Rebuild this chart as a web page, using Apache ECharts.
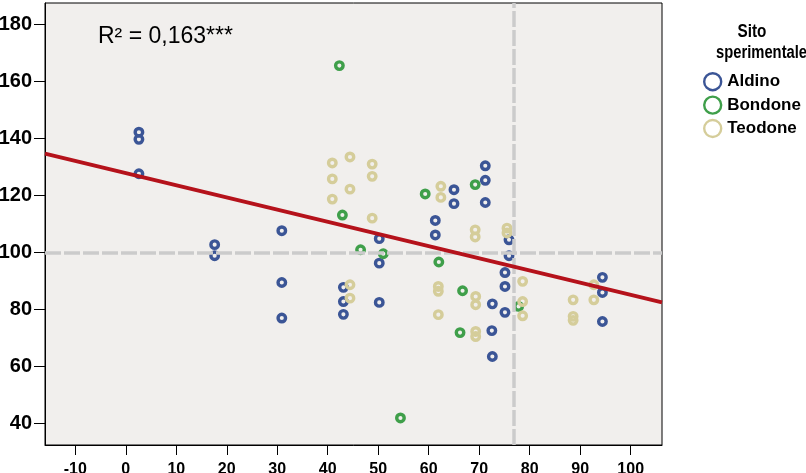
<!DOCTYPE html>
<html>
<head>
<meta charset="utf-8">
<script src="https://cdn.jsdelivr.net/npm/echarts@6.0.0/dist/echarts.min.js"></script>
<style>
html,body{margin:0;padding:0;background:#fff;}
#chart{width:806px;height:473px;}
</style>
</head>
<body>
<div id="chart"></div>
<script>
// ---- data ----
const seriesNames = ['Aldino', 'Bondone', 'Teodone'];
const aldino = [[2.6,142.2],[2.6,139.7],[2.6,127.6],[17.6,102.7],[17.6,98.8],[30.9,107.6],[30.9,89.4],[30.9,76.9],
  [43.1,87.7],[43.1,82.7],[43.1,78.2],[50.2,104.8],[50.2,96.2],[50.2,82.4],[61.3,111.2],[61.3,106.1],[65.0,122.0],
  [65.0,117.1],[71.2,130.4],[71.2,125.3],[71.2,117.5],[72.6,81.9],[72.5,72.5],[72.6,63.4],[75.1,92.9],[75.1,88.0],
  [75.1,78.9],[75.9,104.4],[75.9,98.8],[94.4,91.2],[94.4,85.9],[94.4,75.7]];
const bondone = [[42.3,165.6],[42.9,113.1],[46.5,100.9],[51.0,99.5],[54.4,41.8],[59.3,120.5],[62.0,96.6],
  [66.2,71.8],[66.7,86.5],[69.2,123.8],[77.8,81.0]];
const teodone = [[40.9,131.4],[40.9,125.8],[40.9,118.7],[44.4,133.5],[44.4,122.2],[44.4,88.6],[44.4,83.9],
  [48.8,131.0],[48.8,126.7],[48.8,112.0],[61.9,88.0],[61.9,86.3],[61.9,78.1],[62.4,123.2],[62.4,119.3],
  [69.2,107.9],[69.2,105.4],[69.3,84.5],[69.3,81.6],[69.3,72.2],[69.3,70.4],[75.5,108.5],[75.5,106.8],
  [78.6,89.8],[78.6,82.7],[78.6,77.7],[88.6,83.3],[88.6,77.5],[88.6,76.1],[92.7,88.6],[92.7,83.3]];
const regLine = [[-16, 134.7], [106.2, 82.4]];
const refX = 76.8;
const refY = 100;
const xTicks = [-10, 0, 10, 20, 30, 40, 50, 60, 70, 80, 90, 100];
const yTicks = [40, 60, 80, 100, 120, 140, 160, 180];
const r2Text = 'R\u00B2 = 0,163***';
const legendTitle1 = 'Sito';
const legendTitle2 = 'sperimentale';

// ---- styling ----
const colors = ['#3b5596', '#3f9f4a', '#d5cd9a'];
const fontFam = "'Liberation Sans', Arial, sans-serif";

function scatter(name, data, color) {
  return {
    name: name,
    type: 'scatter',
    data: data,
    symbol: 'circle',
    symbolSize: 7.5,
    z: 2,
    itemStyle: { color: 'rgba(0,0,0,0)', borderColor: color, borderWidth: 3.4, opacity: 1 },
    emphasis: { disabled: true }
  };
}

const chart = echarts.init(document.getElementById('chart'), null, { renderer: 'canvas' });
chart.setOption({
  animation: false,
  backgroundColor: '#ffffff',
  grid: {
    left: 45, top: 3, width: 617, height: 442,
    containLabel: false, outerBoundsMode: 'none',
    show: true, backgroundColor: '#f1efed', borderColor: '#000', borderWidth: 1
  },
  xAxis: {
    type: 'value', min: -16, max: 106.2,
    splitLine: { show: false },
    axisLine: { show: true, onZero: false, lineStyle: { color: '#000', width: 1 } },
    axisTick: { show: true, customValues: xTicks, length: 10, lineStyle: { color: '#000' } },
    axisLabel: { customValues: xTicks, color: '#000', fontSize: 16, fontWeight: 'bold', fontFamily: fontFam, margin: 17 }
  },
  yAxis: {
    type: 'value', min: 32.3, max: 187.6,
    splitLine: { show: false },
    axisLine: { show: true, onZero: false, lineStyle: { color: '#000', width: 1 } },
    axisTick: { show: true, customValues: yTicks, length: 11, lineStyle: { color: '#000' } },
    axisLabel: { customValues: yTicks, color: '#000', fontSize: 20, fontWeight: 'bold', fontFamily: fontFam, margin: 13,
      padding: [5, 0, 0, 0] }
  },
  legend: {
    orient: 'vertical',
    left: 703, top: 72, padding: 0,
    itemWidth: 17, itemHeight: 17, itemGap: 4,
    icon: 'circle',
    selectedMode: false,
    textStyle: { color: '#000', fontSize: 17, fontWeight: 'bold', fontFamily: fontFam, padding: [0, 0, 0, 1] },
    itemStyle: { borderWidth: 2.4 },
    data: seriesNames
  },
  graphic: [
    { type: 'text', left: 98, top: 25, style: { text: r2Text, fontSize: 23, fontFamily: fontFam, fill: '#000' } },
    { type: 'text', x: 752, y: 23, scaleX: 0.85, style: { text: legendTitle1, fontSize: 18, fontWeight: 'bold', fontFamily: fontFam, fill: '#000', align: 'center' } },
    { type: 'text', x: 716, y: 44, scaleX: 0.82, style: { text: legendTitle2, fontSize: 18, fontWeight: 'bold', fontFamily: fontFam, fill: '#000' } }
  ],
  series: [
    scatter(seriesNames[0], aldino, colors[0]),
    scatter(seriesNames[1], bondone, colors[1]),
    scatter(seriesNames[2], teodone, colors[2]),
    {
      type: 'line', data: regLine, symbol: 'none', z: 4, silent: true,
      lineStyle: { color: '#b5121b', width: 3.8 },
      markLine: {
        silent: true, symbol: 'none', z: 3,
        label: { show: false },
        lineStyle: { color: '#cbcbcb', width: 3.5, type: [16, 3] },
        data: [{ xAxis: refX }, { yAxis: refY }]
      }
    }
  ]
});
</script>
</body>
</html>
